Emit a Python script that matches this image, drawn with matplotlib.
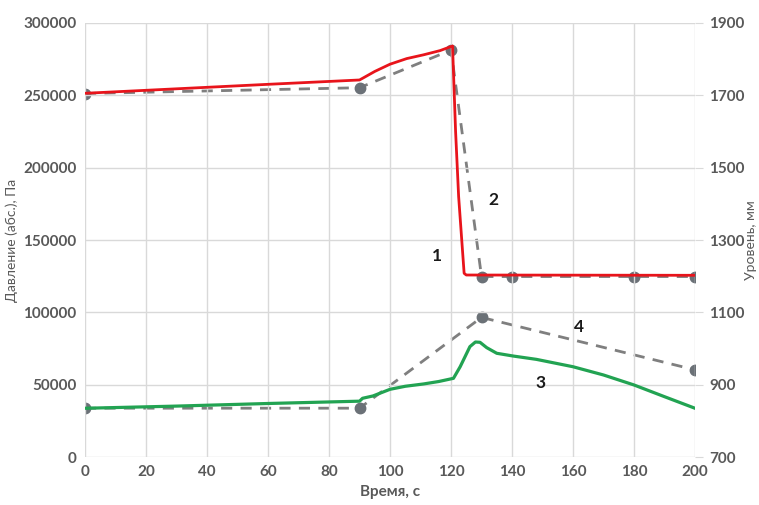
import matplotlib
matplotlib.use("Agg")
import matplotlib.pyplot as plt

# curve 1 - pressure (red), Pa
t1 = [0, 30, 60, 90, 91.2, 95, 100, 105.5, 111, 116.4, 120.5, 121.5, 122.5, 124.3, 125, 160, 200]
p1 = [251400, 254500, 257600, 260600, 262000, 266500, 271500, 275400, 278000, 280900, 284100,
      225000, 180000, 127000, 125800, 125700, 125600]

# curve 3 - pressure (green), Pa
t3 = [0, 30, 60, 90, 91, 94.4, 100, 105, 111, 116, 120.8, 123, 126.2, 128, 129.5, 131.7, 135,
      140.4, 148, 160, 170, 180, 190, 200]
p3 = [33700, 35200, 37000, 38600, 40600, 42200, 46800, 48900, 50500, 52200, 54400, 62400, 76300,
      79500, 79300, 75600, 71700, 69800, 67500, 62400, 56700, 49800, 41700, 33700]

# curve 2 - level (dashed), mm
t2 = [0, 90, 120, 130, 140, 180, 200]
l2 = [1705, 1721, 1825, 1199, 1199, 1199, 1199]

# curve 4 - level (dashed), mm
t4 = [0, 90, 130, 200]
l4 = [835, 835, 1086, 941]

labels = ["1", "2", "3", "4"]
label_pos = [(115.4, 139000), (133.8, 177700), (149.2, 51200), (162, 89900)]

plt.rcParams['font.family'] = ['Lato', 'DejaVu Sans']

fig = plt.figure(figsize=(7.59, 5.05), dpi=100)
ax = fig.add_axes([0.112, 0.095, 0.8037, 0.8595])
ax2 = ax.twinx()

ax.set_xlim(0, 200)
ax.set_ylim(0, 300000)
ax2.set_ylim(700, 1900)
ax.set_xticks(range(0, 201, 20))
ax.set_yticks(range(0, 300001, 50000))
ax2.set_yticks(range(700, 1901, 200))

ax.grid(True, color="#d9d9d9", linewidth=1)
ax.set_axisbelow(True)
for a in (ax, ax2):
    for s in a.spines.values():
        s.set_visible(False)
    a.tick_params(length=0, labelsize=11, labelcolor="#595959", pad=6)
ax2.tick_params(axis='y', length=6, color="#d9d9d9", pad=4)
for lab in ax.get_xticklabels() + ax.get_yticklabels() + ax2.get_yticklabels():
    lab.set_fontweight("bold")

ax2.plot(t2, l2, color="#7f7f7f", linestyle=(0, (4, 3)), linewidth=2, marker="o",
         markersize=7.5, markerfacecolor="#6b7177", markeredgecolor="#6b7177", zorder=2)
ax2.plot(t4, l4, color="#7f7f7f", linestyle=(0, (4, 3)), linewidth=2, marker="o",
         markersize=7.5, markerfacecolor="#6b7177", markeredgecolor="#6b7177", zorder=2)
ax2.set_zorder(ax.get_zorder() - 1)
ax.patch.set_visible(False)
ax2.grid(False)

ax.plot(t1, p1, color="#e8141b", linewidth=2)
ax.plot(t3, p3, color="#22a352", linewidth=2.3)

for lab, (x, y) in zip(labels, label_pos):
    ax.text(x, y, lab, fontsize=12.5, fontweight="bold", color="#1a1a1a", ha="center", va="center")

ax.set_xlabel("Время, с", fontsize=11, fontweight="bold", color="#595959", labelpad=4)
ax.set_ylabel("Давление (абс.), Па", fontsize=10, color="#595959")
ax.yaxis.set_label_coords(-0.11, 0.5)
ax2.set_ylabel("Уровень, мм", fontsize=10, color="#595959")
ax2.yaxis.set_label_coords(1.082, 0.5)

fig.savefig("out.png", dpi=100)
